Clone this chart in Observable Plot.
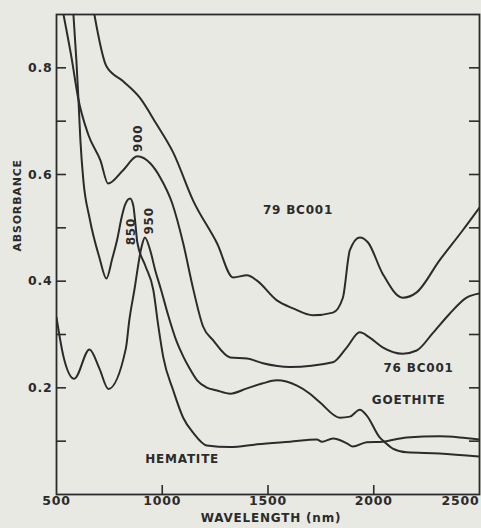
<!DOCTYPE html>
<html>
<head>
<meta charset="utf-8">
<script src="https://cdn.jsdelivr.net/npm/d3@7"></script>
<script src="https://cdn.jsdelivr.net/npm/@observablehq/plot@0.6"></script>
<style>
  html, body { margin: 0; padding: 0; background: #e9e9e4; }
  #chart svg text { letter-spacing: 0.8px; }
</style>
</head>
<body>
<div id="chart"></div>
<script>
// ---- data (wavelength nm, absorbance) ----
const bc79Wl  = [679, 736, 815, 892, 972, 1052, 1146, 1259, 1335, 1401, 1448, 1542, 1618, 1712, 1807, 1854, 1887, 1934, 1972, 2042, 2137, 2203, 2311, 2420, 2500];
const bc79Abs = [0.900, 0.803, 0.775, 0.745, 0.695, 0.641, 0.551, 0.471, 0.407, 0.411, 0.401, 0.364, 0.349, 0.336, 0.341, 0.369, 0.458, 0.482, 0.473, 0.414, 0.369, 0.379, 0.439, 0.495, 0.538];

const bc76Wl  = [533, 571, 602, 650, 708, 744, 815, 882, 943, 991, 1047, 1099, 1146, 1193, 1241, 1321, 1401, 1476, 1604, 1807, 1873, 1934, 1981, 2042, 2137, 2203, 2278, 2359, 2439, 2500];
const bc76Abs = [0.900, 0.819, 0.744, 0.675, 0.626, 0.583, 0.608, 0.634, 0.621, 0.594, 0.546, 0.471, 0.386, 0.315, 0.289, 0.257, 0.255, 0.246, 0.239, 0.248, 0.276, 0.304, 0.294, 0.276, 0.264, 0.270, 0.302, 0.339, 0.369, 0.377];

const hemWl  = [580, 594, 604, 613, 627, 656, 703, 736, 764, 788, 807, 825, 848, 863, 873, 882, 920, 958, 981, 1005, 1052, 1099, 1146, 1211, 1321, 1448, 1604, 1731, 1755, 1807, 1873, 1901, 1967, 2042, 2156, 2311, 2406, 2500];
const hemAbs = [0.900, 0.814, 0.739, 0.664, 0.589, 0.519, 0.444, 0.405, 0.443, 0.480, 0.518, 0.544, 0.555, 0.542, 0.508, 0.473, 0.429, 0.383, 0.317, 0.257, 0.195, 0.144, 0.116, 0.092, 0.089, 0.094, 0.099, 0.103, 0.099, 0.105, 0.096, 0.090, 0.098, 0.099, 0.107, 0.109, 0.107, 0.103];

const goeWl  = [500, 534, 584, 656, 703, 745, 828, 844, 868, 902, 918, 943, 967, 995, 1028, 1066, 1099, 1127, 1165, 1208, 1259, 1321, 1401, 1472, 1542, 1637, 1698, 1745, 1840, 1887, 1934, 1967, 2028, 2052, 2090, 2156, 2311, 2500];
const goeAbs = [0.332, 0.257, 0.217, 0.272, 0.236, 0.198, 0.274, 0.326, 0.383, 0.464, 0.482, 0.458, 0.420, 0.383, 0.336, 0.289, 0.259, 0.238, 0.214, 0.201, 0.195, 0.189, 0.199, 0.208, 0.214, 0.204, 0.189, 0.173, 0.144, 0.146, 0.159, 0.148, 0.107, 0.098, 0.086, 0.079, 0.077, 0.071];

const seriesNames = ["79 BC001", "76 BC001", "HEMATITE", "GOETHITE"];

// labels: text, wavelength, absorbance, rotation
const labelText = ["79 BC001", "76 BC001", "GOETHITE", "HEMATITE", "900", "850", "950"];
const labelWl   = [1642, 2212, 2165, 1094, 884, 854, 936];
const labelAbs  = [0.533, 0.236, 0.176, 0.066, 0.668, 0.493, 0.513];
const labelRot  = [0, 0, 0, 0, -90, -90, -90];

const xTickLabels = [500, 1000, 1500, 2000];
const xLastLabel = [2500];
const xTicks = [1000, 1500, 2000];
const yTickLabels = [0.2, 0.4, 0.6, 0.8];
const yTicks = [0.1, 0.2, 0.3, 0.4, 0.5, 0.6, 0.7, 0.8];

// ---- build tables ----
const wls = [bc79Wl, bc76Wl, hemWl, goeWl];
const abss = [bc79Abs, bc76Abs, hemAbs, goeAbs];
const rows = [];
seriesNames.forEach((s, i) => wls[i].forEach((w, j) => rows.push({series: s, wl: w, abs: abss[i][j]})));
const labels = labelText.map((t, i) => ({text: t, wl: labelWl[i], abs: labelAbs[i], rot: labelRot[i]}));

const W = 481, H = 528;
const mL = 56, mR = 2, mT = 14, mB = 34;
const innerW = W - mL - mR, innerH = H - mT - mB;
const ink = "#2b2b2b";

const chart = Plot.plot({
  width: W, height: H,
  marginLeft: mL, marginRight: mR, marginTop: mT, marginBottom: mB,
  style: {background: "#e9e9e4", fontFamily: "DejaVu Sans", fontSize: "12px", color: ink, overflow: "visible"},
  x: {domain: [500, 2500], axis: null},
  y: {domain: [0, 0.9], axis: null},
  marks: [
    Plot.frame({stroke: ink, strokeWidth: 1.8}),
    Plot.tickY(yTicks, {y: d => d, stroke: ink, strokeWidth: 1.6, insetRight: innerW - 10}),
    Plot.tickY(yTicks, {y: d => d, stroke: ink, strokeWidth: 1.6, insetLeft: innerW - 10}),
    Plot.tickX(xTicks, {x: d => d, stroke: ink, strokeWidth: 1.6, insetTop: innerH - 9}),
    Plot.axisY({ticks: yTickLabels, tickSize: 0, tickPadding: 4, tickFormat: d3.format(".1f"), label: null, fontSize: 12.5, fontWeight: "bold", fill: ink}),
    Plot.axisX({ticks: xTickLabels, tickSize: 0, tickPadding: 2, tickFormat: d => String(d), label: null, fontSize: 12.5, fontWeight: "bold", fill: ink}),
    Plot.text(xLastLabel, {x: d => d, y: () => 0, text: d => String(d), textAnchor: "end", lineAnchor: "top", dy: 2, fontSize: 12.5, fontWeight: "bold", fill: ink}),
    Plot.line(rows, {x: "wl", y: "abs", z: "series", stroke: ink, strokeWidth: 2, curve: "monotone-x", clip: true}),
    Plot.text(labels, {x: "wl", y: "abs", text: "text", rotate: "rot", fontSize: 12, fontWeight: "bold", fill: ink}),
    Plot.text(["ABSORBANCE"], {frameAnchor: "left", dx: -39, dy: -3, rotate: -90, fontSize: 11, fontWeight: "bold", fill: ink}),
    Plot.text(["WAVELENGTH (nm)"], {frameAnchor: "bottom", dx: 3, dy: 27, fontSize: 12, fontWeight: "bold", fill: ink})
  ]
});
document.getElementById("chart").appendChild(chart);
</script>
</body>
</html>
